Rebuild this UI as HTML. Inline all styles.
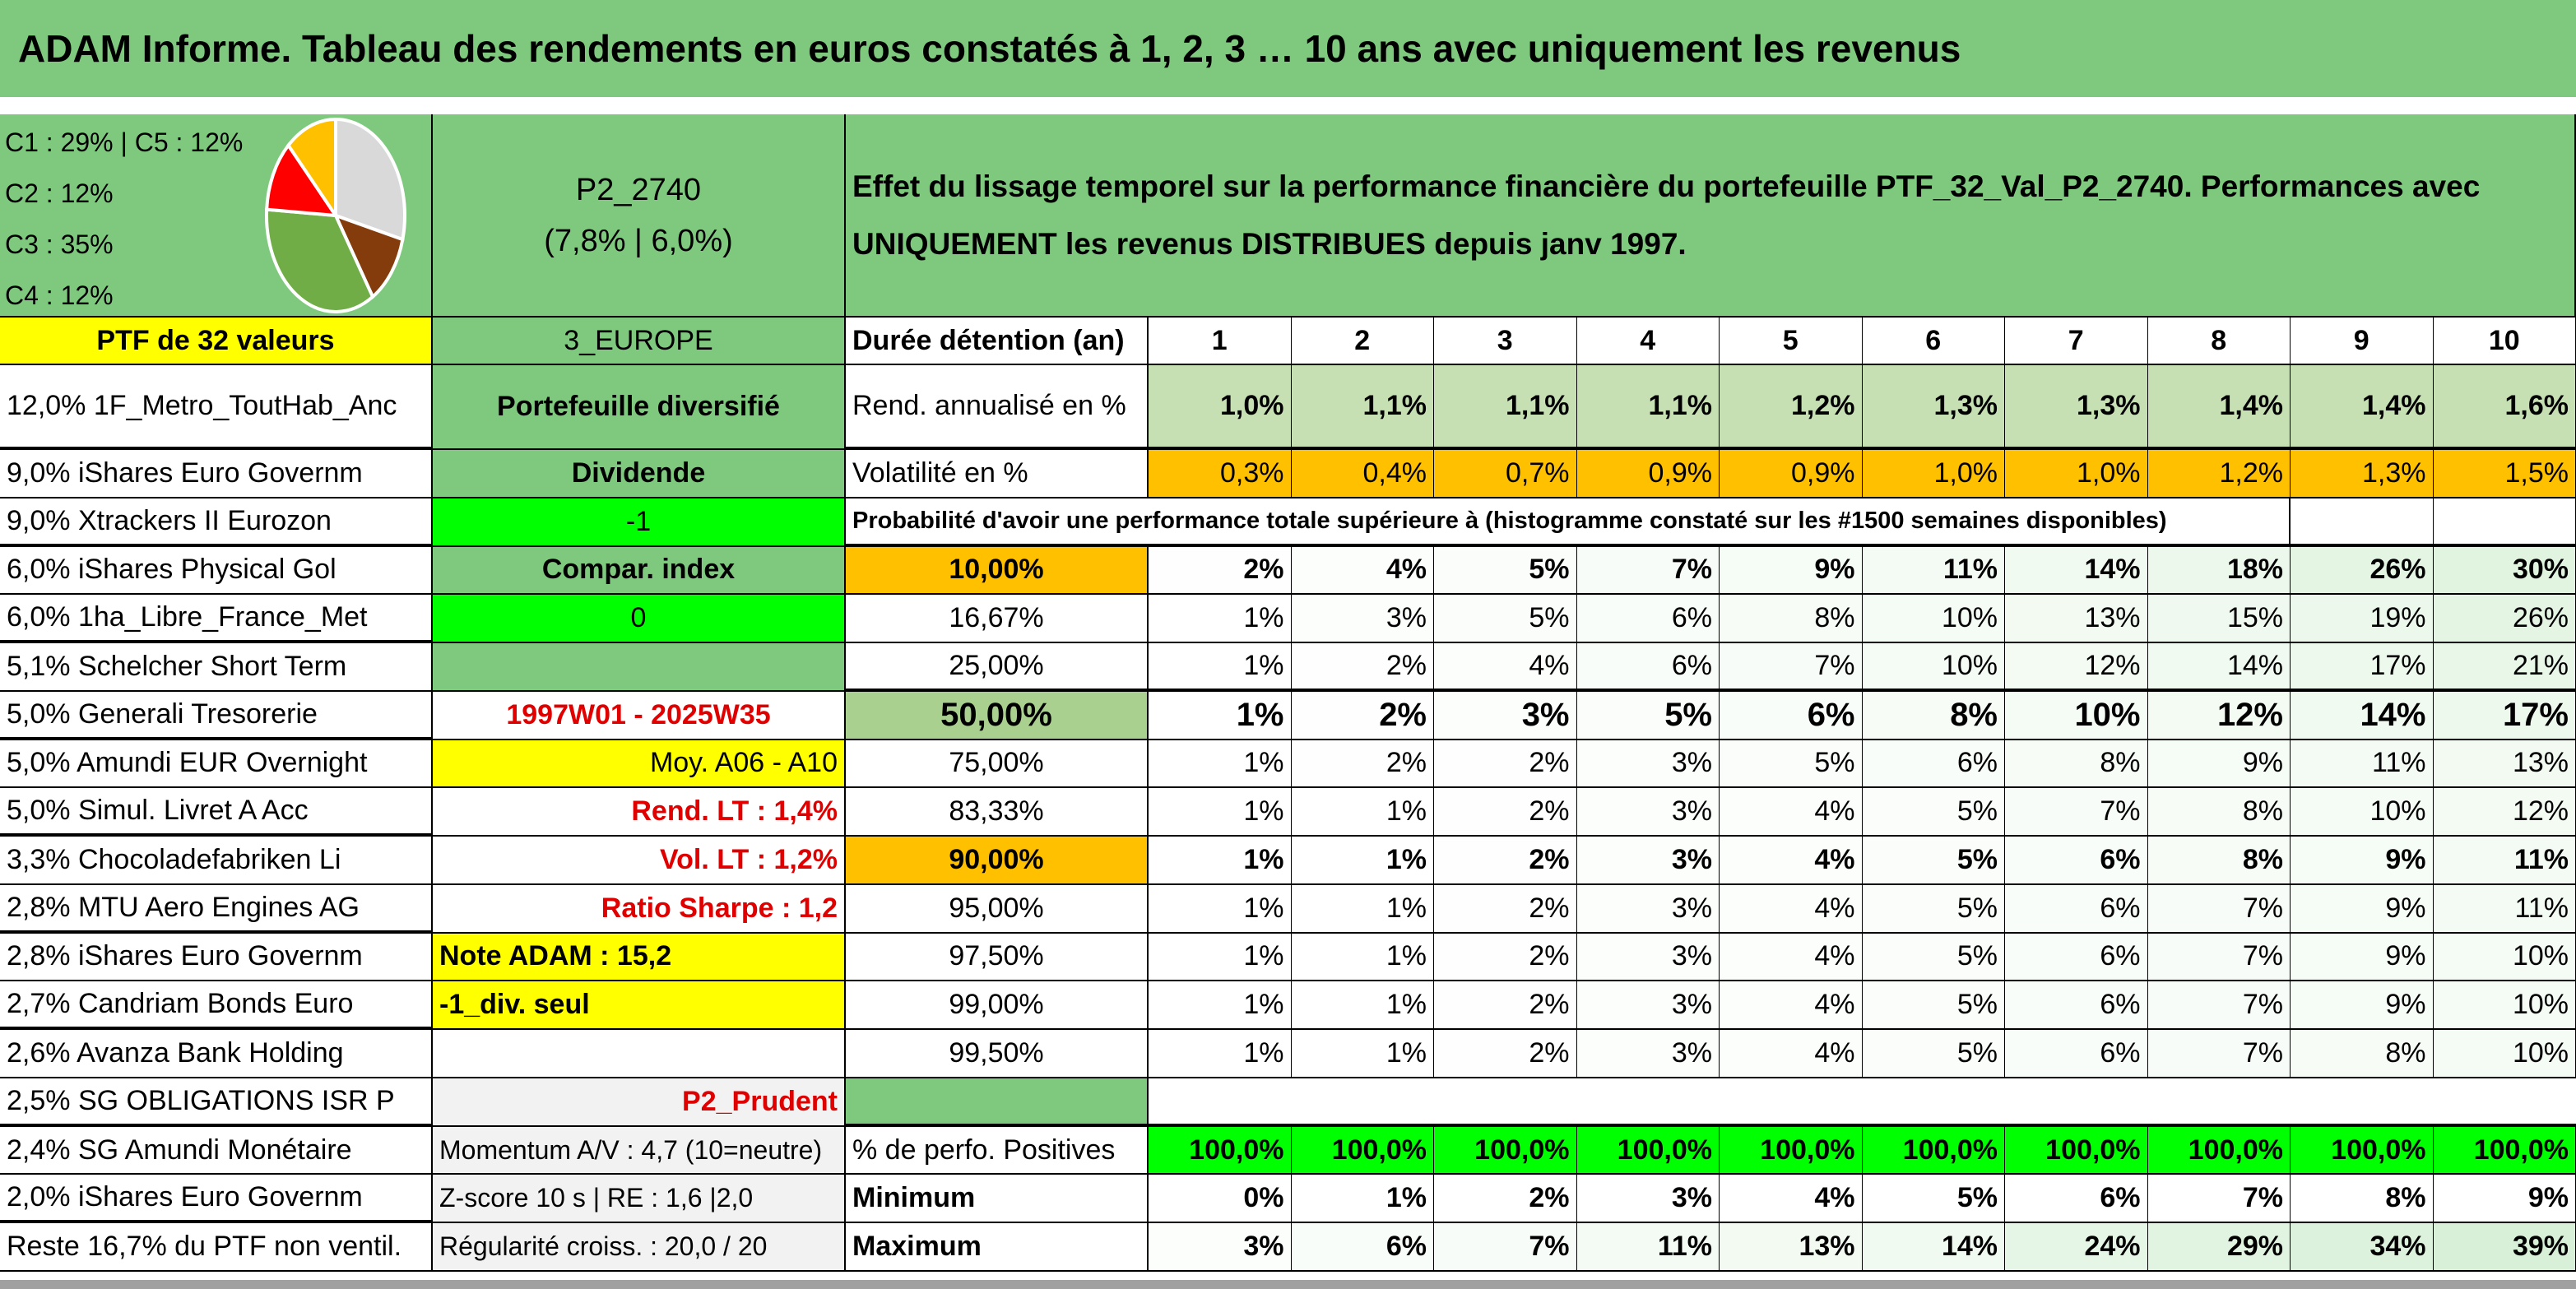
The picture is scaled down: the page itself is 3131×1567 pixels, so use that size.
<!DOCTYPE html>
<html><head><meta charset="utf-8">
<style>
html,body{margin:0;padding:0;background:#fff;}
body{width:3131px;height:1567px;position:relative;overflow:hidden;font-family:"Liberation Sans Narrow","Liberation Sans",sans-serif;font-weight:bold;color:#000;}
.c{position:absolute;box-sizing:border-box;border-right:2px solid #000;border-bottom:2px solid #000;white-space:nowrap;overflow:hidden;display:flex;align-items:center;font-size:34px;padding:0 8px;}
.l{justify-content:flex-start}.m{justify-content:center}.r{justify-content:flex-end}
.n{font-weight:normal}
.red{color:#e00000}
#title{position:absolute;left:0;top:0;width:3131px;height:118px;background:#7fc97f;font-size:46px;display:flex;align-items:center;padding-left:22px;box-sizing:border-box;}
</style></head><body>
<div id="title">ADAM Informe. Tableau des rendements en euros constatés à 1, 2, 3 … 10 ans avec uniquement les revenus</div>
<div style="position:absolute;left:0;top:118px;width:3131px;height:21px;background:#fff;"></div>
<div style="position:absolute;left:0;top:1556px;width:3131px;height:11px;background:#a0a0a0;"></div>
<div id="grid"></div>
<script>
const years = ["1","2","3","4","5","6","7","8","9","10"];
const rendAnnual = [1.0,1.1,1.1,1.1,1.2,1.3,1.3,1.4,1.4,1.6];
const volatility = [0.3,0.4,0.7,0.9,0.9,1.0,1.0,1.2,1.3,1.5];
const thresholds = ["10,00%","16,67%","25,00%","50,00%","75,00%","83,33%","90,00%","95,00%","97,50%","99,00%","99,50%"];
const p10 = [2,4,5,7,9,11,14,18,26,30];
const p1667 = [1,3,5,6,8,10,13,15,19,26];
const p25 = [1,2,4,6,7,10,12,14,17,21];
const p50 = [1,2,3,5,6,8,10,12,14,17];
const p75 = [1,2,2,3,5,6,8,9,11,13];
const p8333 = [1,1,2,3,4,5,7,8,10,12];
const p90 = [1,1,2,3,4,5,6,8,9,11];
const p95 = [1,1,2,3,4,5,6,7,9,11];
const p975 = [1,1,2,3,4,5,6,7,9,10];
const p99 = [1,1,2,3,4,5,6,7,9,10];
const p995 = [1,1,2,3,4,5,6,7,8,10];
const positives = [100,100,100,100,100,100,100,100,100,100];
const minimum = [0,1,2,3,4,5,6,7,8,9];
const maximum = [3,6,7,11,13,14,24,29,34,39];
const pieLabels = ["C1","C5","C3","C2","C4"];
const pieValues = [29,12,35,12,12];
const pieColors = ["#d9d9d9","#843c0c","#70ad47","#ff0000","#ffc000"];
const holdings = ["12,0% 1F_Metro_ToutHab_Anc","9,0% iShares Euro Governm","9,0% Xtrackers II Eurozon","6,0% iShares Physical Gol","6,0% 1ha_Libre_France_Met","5,1% Schelcher Short Term","5,0% Generali Tresorerie","5,0% Amundi EUR Overnight","5,0% Simul. Livret A Acc","3,3% Chocoladefabriken Li","2,8% MTU Aero Engines AG","2,8% iShares Euro Governm","2,7% Candriam Bonds Euro","2,6% Avanza Bank Holding","2,5% SG OBLIGATIONS ISR P","2,4% SG Amundi Monétaire","2,0% iShares Euro Governm","Reste 16,7% du PTF non ventil."];

const G = document.getElementById('grid');
const X0=0,X1=526,X2=1028,X3=1396,CW=173.5;
const RA=139,R0=386,R1=444,K0=547,KH=58.76;
function vx(i){return X3+CW*i;}
function ky(k){return K0+KH*k;}
function cell(x,y,w,h,txt,cls,bg,extra){
  const d=document.createElement('div');
  d.className='c '+(cls||'m');
  d.style.left=x+'px';d.style.top=y+'px';d.style.width=w+'px';d.style.height=h+'px';
  if(bg)d.style.background=bg;
  if(extra)d.style.cssText+=extra;
  d.textContent=txt;
  G.appendChild(d);return d;
}
function fmt1(v){return v.toFixed(1).replace('.',',')+'%';}
function shade(v){const t=Math.min(v/40,1);const r=Math.round(255-(255-214)*t),g=Math.round(255-(255-240)*t),b=Math.round(255-(255-214)*t);return 'rgb('+r+','+g+','+b+')';}

let e;
e=cell(X0,RA,X1,R0-RA,'','l','#7fc97f','display:block;padding:0;');


const legTxt=["C1 : 29% | C5 : 12%","C2 : 12%","C3 : 35%","C4 : 12%"];
legTxt.forEach((t,i)=>{const s=document.createElement('div');s.style.cssText='position:absolute;left:6px;top:'+(16+i*62)+'px;font-size:32px;font-weight:normal;';s.textContent=t;


e.appendChild(s);});
const svgNS='http://www.w3.org/2000/svg';
const svg=document.createElementNS(svgNS,'svg');
svg.setAttribute('width','526');svg.setAttribute('height','247');
svg.style.cssText='position:absolute;left:0;top:0;';


const cx=408,cy=123,rx=84,ry=117;
let acc=0;const tot=pieValues.reduce((a,b)=>a+b,0);
pieValues.forEach((v,i)=>{
  const a0=acc/tot*2*Math.PI;acc+=v;const a1=acc/tot*2*Math.PI;
  const x0=cx+rx*Math.sin(a0),y0=cy-ry*Math.cos(a0),x1=cx+rx*Math.sin(a1),y1=cy-ry*Math.cos(a1);
  const p=document.createElementNS(svgNS,'path');
  p.setAttribute('d','M'+cx+','+cy+' L'+x0+','+y0+' A'+rx+','+ry+' 0 '+((a1-a0)>Math.PI?1:0)+' 1 '+x1+','+y1+' Z');
  p.setAttribute('fill',pieColors[i]);p.setAttribute('stroke','#fff');p.setAttribute('stroke-width','4');
  
  
  svg.appendChild(p);
});
e.appendChild(svg);

e=cell(X1,RA,X2-X1,R0-RA,'','m','#7fc97f','flex-direction:column;justify-content:center;font-weight:normal;font-size:38px;line-height:62px;');
e.innerHTML='<div>P2_2740</div><div>(7,8% | 6,0%)</div>';


e=cell(X2,RA,3131-X2,R0-RA,'','l','#7fc97f','flex-direction:column;align-items:flex-start;justify-content:center;font-size:37px;line-height:70px;');
e.innerHTML='<div>Effet du lissage temporel sur la performance financière du portefeuille PTF_32_Val_P2_2740. Performances avec</div><div>UNIQUEMENT les revenus DISTRIBUES depuis janv 1997.</div>';



e=cell(X0,R0,X1,R1-R0,'PTF de 32 valeurs','m','#ffff00');


e=cell(X1,R0,X2-X1,R1-R0,'3_EUROPE','m','#7fc97f','font-weight:normal');


e=cell(X2,R0,X3-X2,R1-R0,'Durée détention (an)','l','#fff');


years.forEach((y,i)=>{const c=cell(vx(i),R0,CW,R1-R0,y,'m','#fff','border-right-width:1px');

});

e=cell(X0,R1,X1,K0-R1,holdings[0],'l n','#fff','border-bottom-width:4px');


e=cell(X1,R1,X2-X1,K0-R1,'Portefeuille diversifié','m','#7fc97f');


e=cell(X2,R1,X3-X2,K0-R1,'Rend. annualisé en %','l','#fff','font-weight:normal;border-bottom-width:4px');


rendAnnual.forEach((v,i)=>{const c=cell(vx(i),R1,CW,K0-R1,fmt1(v),'r','#c6e0b4','border-right-width:1px;border-bottom-width:4px');

});

for(let k=0;k<17;k++){
  const c=cell(X0,ky(k),X1,KH,holdings[k+1],'l n','#fff',(k%2==1?'border-bottom-width:4px':''));
  
  
}
const col2=[
 ['Dividende','m','#7fc97f',''],['-1','m','#00ff00','font-weight:normal'],['Compar. index','m','#7fc97f',''],['0','m','#00ff00','font-weight:normal'],['','m','#7fc97f',''],
 ['1997W01 - 2025W35','m red','#fff',''],['Moy. A06 - A10','r','#ffff00','font-weight:normal'],['Rend. LT : 1,4%','r red','#fff',''],['Vol. LT : 1,2%','r red','#fff',''],['Ratio Sharpe : 1,2','r red','#fff',''],
 ['Note ADAM : 15,2','l','#ffff00',''],['-1_div. seul','l','#ffff00',''],['','m','#fff',''],['P2_Prudent','r red','#f2f2f2',''],
 ['Momentum A/V : 4,7 (10=neutre)','l','#f2f2f2','font-weight:normal;font-size:32px'],['Z-score 10 s | RE : 1,6 |2,0','l','#f2f2f2','font-weight:normal;font-size:32px'],['Régularité croiss. : 20,0 / 20','l','#f2f2f2','font-weight:normal;font-size:32px']];
col2.forEach((d,k)=>{const c=cell(X1,ky(k),X2-X1,KH,d[0],d[1],d[2],d[3]);

});

e=cell(X2,ky(0),X3-X2,KH,'Volatilité en %','l','#fff','font-weight:normal');


volatility.forEach((v,i)=>{const c=cell(vx(i),ky(0),CW,KH,fmt1(v),'r n','#ffc000','border-right-width:1px');

});
e=cell(X2,ky(1),vx(8)-X2,KH,"Probabilité d'avoir une performance totale supérieure à (histogramme constaté sur les #1500 semaines disponibles)",'l','#fff','font-size:29px;border-bottom-width:4px');


for(let i=8;i<10;i++){const c=cell(vx(i),ky(1),CW,KH,'','m','#fff','border-right-width:1px;border-bottom-width:4px');

}
const probRows=[p10,p1667,p25,p50,p75,p8333,p90,p95,p975,p99,p995];
const boldRows=[0,3,6];
probRows.forEach((arr,j)=>{
  const k=j+2;const bold=boldRows.indexOf(j)>=0;
  let bg='#fff',ex=bold?'':'font-weight:normal;';
  if(j==0||j==6)bg='#ffc000';
  if(j==3){bg='#a9d08e';ex='font-size:40px;';}
  if(j==2)ex+='border-bottom-width:4px;';
  const t=cell(X2,ky(k),X3-X2,KH,thresholds[j],'m',bg,ex);
  
  
  arr.forEach((v,i)=>{
    let ex2='border-right-width:1px;'+(bold?'':'font-weight:normal;')+(j==3?'font-size:40px;':'')+(j==2?'border-bottom-width:4px;':'');
    const c=cell(vx(i),ky(k),CW,KH,v+'%','r',shade(v),ex2);
    
    
  });
});
e=cell(X2,ky(13),X3-X2,KH,'','m','#7fc97f','border-bottom-width:4px');


e=cell(X3,ky(13),3131-X3,KH,'','m','#fff','border-right:none;border-bottom-width:4px');


const statLabels=['% de perfo. Positives','Minimum','Maximum'];
const statRows=[positives,minimum,maximum];
statRows.forEach((arr,j)=>{
  const k=14+j;
  const l=cell(X2,ky(k),X3-X2,KH,statLabels[j],'l','#fff',j==0?'font-weight:normal':'');
  
  
  arr.forEach((v,i)=>{
    const txt=j==0?fmt1(v):v+'%';
    const bg=j==0?'#00ff00':(j==2?shade(v):'#fff');
    const c=cell(vx(i),ky(k),CW,KH,txt,'r',bg,'border-right-width:1px');
    
    
  });
});
</script>
</body></html>
